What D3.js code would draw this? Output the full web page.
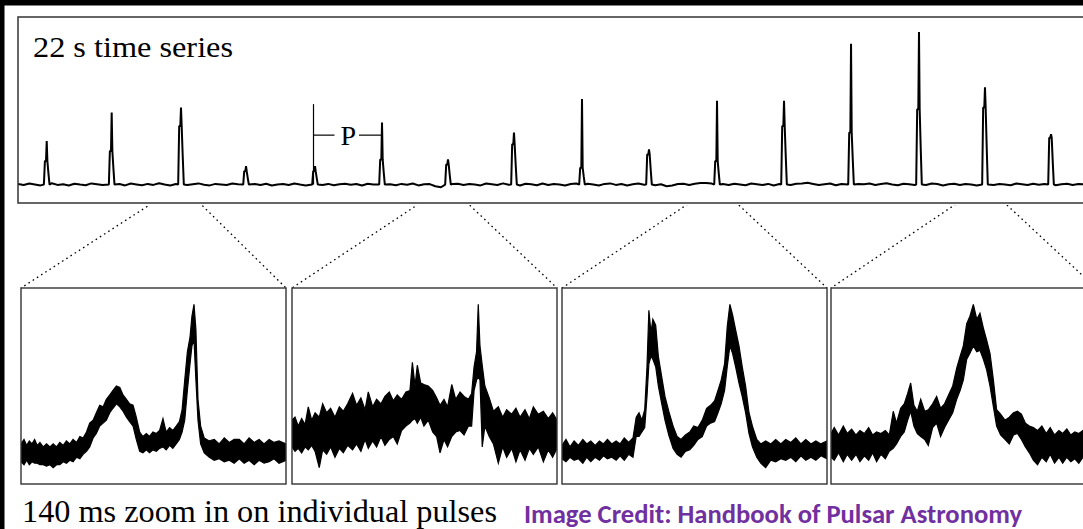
<!DOCTYPE html>
<html>
<head>
<meta charset="utf-8">
<script src="https://cdn.jsdelivr.net/npm/d3@7"></script>
<style>
  html, body { margin: 0; padding: 0; background: #fff; }
  svg { display: block; }
</style>
</head>
<body>
<div id="chart"></div>
<script>
// pulse arrival times in the 22 s series (s), peak and shoulder heights (arb. units)
const pulseTimes = [0.509, 1.661, 2.890, 4.043, 5.266, 6.454, 7.624, 8.794, 10.0, 11.188, 12.394, 13.582, 14.77, 15.975, 17.145, 18.316];
const pulsePeaks = [26, 43, 46, 11, 11, 37, 15, 31, 51, 21, 50, 50, 84, 91, 58, 30];
const pulseShoulders = [14, 20, 35, 8, 8, 15, 12, 24, 10, 18, 14, 35, 31, 45, 46, 28];
// off-pulse baseline, one sample every 0.1 s
const baselineNoise = [
    0.4, -0.3, 0.6, 0.1, -0.5, 0.3, 0.8, -0.2, 0.2, -0.6, 0.5, 0.0, -0.4, 0.7, 0.2, -0.3, 0.5, -0.1, 0.3, -0.5,
    0.6, 0.1, -0.4, 0.4, -0.2, 0.8, 0.0, -0.6, 0.3, 0.5, -0.3, 0.2, 0.7, -0.1, -0.5, 0.4, 0.1, -0.3, 0.6, 0.2,
    -0.4, 1.2, 0.3, -0.2, 0.5, -0.6, 0.1, 0.4, -0.3, 0.6, 0.0, -0.5, 0.3, 0.7, -0.2, 0.4, -0.4, 0.2, 0.5, -0.1,
    0.3, -0.6, 0.5, 0.1, -0.3, 0.7, 0.2, -0.4, 0.4, -0.1, 0.6, -0.5, 0.2, 0.3, -1.0, -1.6, -0.8, 0.3, 0.5, -0.2,
    0.4, 0.0, -0.5, 0.6, 0.2, -0.3, 0.7, -0.1, 0.3, -0.6, 0.5, 0.2, -0.4, 0.6, -0.2, 0.4, 0.1, -0.5, 0.3, 0.6,
    -0.3, 0.5, 0.1, -0.6, 0.4, 0.7, -0.2, 0.3, -0.5, 0.2, 0.6, -0.1, 0.4, -0.4, 0.2, -1.0, -0.6, 0.3, 0.5, -0.2,
    0.5, 0.9, 1.0, 0.6, 0.8, 0.3, -0.2, 0.5, 0.1, -0.4, 0.6, 0.2, -0.3, 0.4, -0.6, 0.3, 0.1, -0.2, 0.5, 0.7,
    1.1, 0.4, -0.3, 0.2, 0.6, -0.4, 0.3, 0.1, -0.5, 0.4, 0.2, 0.6, -0.2, 0.3, 0.8, 0.1, -0.4, 0.5, 0.2, -0.3,
    0.4, -0.2, 0.6, 0.3, -0.5, 0.2, 0.5, -0.3, 0.4, 0.1, -0.6, 0.3, 0.7, -0.2, 0.4, 0.0, -0.4, 0.6, 0.2, -0.3,
    0.5, -0.1, 0.3, 0.6, -0.4, 0.2, 0.5, -0.2, 0.3, 0.1, -0.5, 0.4
];
const baselineStep = 0.1;
// which pulses get a 140 ms zoom panel
const zoomedPulses = [2, 6, 10, 14];

// 140 ms zooms: time (ms), upper and lower edge of the noisy trace
const zoom1T = [0, 1.6, 3, 4.4, 5.8, 7.2, 8.6, 10, 11.7, 13.5, 15.3, 17, 18.8, 20.5, 22.3, 24, 25.8, 27.5, 29.3, 31.1, 32.8, 34.6, 36.3, 38.1, 39.8, 41.6, 43.4, 45.1, 46.9, 48.6, 50.4, 52.2, 53.9, 55.7, 57.4, 59.2, 60.9, 62.7, 64.4, 66.2, 67.9, 69.7, 71.5, 73.2, 75, 76.7, 78.5, 80.2, 82, 83.7, 85.1, 86.5, 87.9, 89.3, 90.3, 91.4, 92.4, 93.5, 94.9, 96.8, 99.5, 102.1, 104.7, 107.4, 110, 112.6, 115.3, 117.9, 120.5, 123.2, 125.8, 128.4, 131.1, 133.7, 136.3, 140];
const zoom1Hi = [7, 10, 6, 9, 7, 10, 6, 8, 5, 7, 5, 7, 5, 8, 6, 9, 7, 10, 8, 12, 11, 15, 21, 23, 28, 33, 32, 37, 40, 43, 46, 45, 40, 37, 34, 33, 25, 15, 12, 14, 12, 15, 14, 16, 24, 15, 18, 16, 19, 22, 30, 50, 69, 79, 93, 101, 84, 37, 19, 11, 9, 10, 7, 11, 8, 10, 10, 7, 11, 8, 10, 7, 10, 8, 9, 7];
const zoom1Lo = [-5, -7, -4, -7, -5, -6, -6, -7, -7, -8, -7, -9, -7, -7, -5, -6, -4, -5, -2, -3, 0, 2, 5, 11, 14, 19, 21, 23, 28, 31, 34, 32, 29, 25, 22, 19, 10, 2, 1, 3, 1, 3, 2, 4, 5, 3, 6, 4, 7, 10, 15, 23, 43, 61, 73, 77, 50, 23, 7, 1, -2, -4, -3, -5, -4, -6, -3, -6, -4, -7, -4, -6, -5, -3, -6, -4];

const zoom2T = [0, 1.6, 3.3, 5.1, 6.9, 8.6, 10.4, 12.2, 14.4, 16.2, 18.3, 20.4, 22.7, 25, 27.1, 29.4, 32, 34.1, 36.4, 38.6, 40.3, 42.6, 44.7, 47, 49.1, 51.4, 53.5, 55.6, 57.9, 60.2, 62.3, 63.6, 65, 66.2, 68, 69.7, 72, 74.3, 76.4, 78.2, 80.3, 82.2, 84.4, 86.5, 88.8, 90.9, 93.2, 94.9, 96.2, 97.5, 98.4, 99.3, 100.5, 101.9, 104.2, 106.4, 109, 111.3, 113.4, 116.1, 118.3, 120.5, 123.1, 125.4, 127.5, 130.1, 132.8, 135.4, 137.7, 140];
const zoom2Hi = [23, 25, 19, 24, 20, 32, 23, 28, 25, 34, 28, 31, 25, 32, 29, 34, 41, 33, 38, 30, 42, 32, 37, 34, 39, 42, 36, 40, 37, 42, 43, 62, 46, 60, 48, 47, 46, 43, 38, 33, 37, 32, 47, 37, 42, 39, 37, 41, 59, 69, 101, 73, 60, 46, 38, 29, 32, 25, 30, 27, 31, 25, 30, 24, 32, 27, 29, 24, 28, 23];
const zoom2Lo = [5, 2, 4, 1, 5, 3, 6, 2, -9, 3, 0, 5, -2, 4, 1, 6, 3, 7, 2, 10, 4, 9, 5, 12, 6, 10, 12, 7, 16, 19, 21, 23, 24, 21, 25, 19, 23, 15, 12, 1, 10, 5, 12, 15, 16, 13, 19, 19, 43, 50, 52, 50, 5, 19, 12, 7, -6, 5, -2, 4, -5, 3, -4, 4, 0, 5, -5, 3, -2, 4];

const zoom3T = [0, 2.1, 4.2, 6.4, 8.7, 11, 13.1, 15.2, 17.5, 19.8, 21.9, 24, 26.3, 28.6, 30.7, 32.9, 35.2, 37.5, 39.2, 40.7, 42.2, 43.7, 44.9, 45.9, 47, 48, 49.5, 50.9, 52.7, 54.4, 56.4, 58.7, 60.8, 62.9, 65.2, 67.5, 69.6, 71.8, 74.1, 76.4, 78.5, 80.6, 82.4, 84.1, 85.9, 87.3, 88.7, 90.1, 91.7, 93.5, 95.2, 97, 98.8, 100.6, 102.9, 105, 107.6, 110.3, 112.9, 115.6, 118.2, 120.9, 123.5, 126.2, 128.8, 131.5, 134.1, 136.8, 140];
const zoom3Hi = [6, 10, 5, 9, 6, 10, 7, 9, 6, 9, 7, 10, 7, 9, 7, 11, 8, 11, 25, 28, 23, 30, 59, 97, 82, 91, 87, 66, 52, 39, 29, 19, 12, 10, 13, 15, 19, 18, 23, 31, 33, 36, 43, 50, 61, 86, 101, 94, 84, 73, 59, 46, 28, 19, 10, 7, 9, 7, 10, 7, 10, 8, 11, 7, 10, 7, 9, 7, 9];
const zoom3Lo = [-3, -5, -2, -4, -3, -6, -2, -5, -2, -4, -1, -3, -2, -4, -1, -4, 0, -2, 12, 12, 15, 18, 39, 61, 66, 64, 59, 46, 34, 23, 13, 4, 0, -2, 2, 3, 6, 10, 12, 19, 21, 22, 28, 34, 43, 59, 73, 68, 59, 48, 39, 28, 14, 5, -2, -6, -9, -4, -5, -3, -4, -2, -5, -1, -4, -2, -4, -1, -3];

const zoom4T = [0, 1.7, 4, 6.5, 8.6, 10.9, 13.2, 15.3, 17.6, 19.9, 22, 24.1, 26.4, 28.7, 30.8, 32.9, 34.6, 36.8, 38.7, 40.5, 42.1, 43.8, 45.6, 47.4, 49.5, 51.4, 53.7, 55.8, 57.9, 60, 62.1, 64.3, 66.4, 68.2, 69.9, 71.7, 73.4, 75.2, 77, 78.7, 80.5, 82.2, 84, 85.8, 87.5, 89.6, 91.9, 94.2, 96.4, 98.5, 100.6, 102.7, 104.8, 106.9, 109.1, 111.4, 113.7, 115.8, 118.1, 120.4, 122.4, 124.6, 126.7, 128.8, 130.9, 133.1, 135, 137.5, 140];
const zoom4Hi = [14, 18, 13, 19, 14, 17, 13, 16, 14, 18, 13, 15, 14, 16, 13, 29, 21, 31, 34, 41, 48, 33, 29, 37, 29, 30, 34, 39, 31, 34, 40, 46, 58, 66, 73, 88, 93, 101, 91, 95, 85, 77, 68, 50, 30, 27, 23, 25, 28, 29, 27, 21, 19, 18, 16, 19, 14, 18, 13, 16, 14, 17, 13, 15, 14, 16, 13, 16, 14];
const zoom4Lo = [-2, -4, 1, -5, 0, -4, 0, -5, -1, -4, 1, -5, 0, -3, 2, 4, 7, 12, 15, 23, 29, 19, 14, 12, 10, 6, 18, 21, 12, 18, 23, 28, 37, 43, 50, 64, 68, 73, 69, 70, 64, 57, 46, 32, 19, 13, 10, 7, 13, 14, 10, 5, 1, -4, -7, -2, -5, 0, -6, -2, -6, -2, -5, -3, -6, -2, -4, -2, -3];

const zoomT = [zoom1T, zoom2T, zoom3T, zoom4T];
const zoomHi = [zoom1Hi, zoom2Hi, zoom3Hi, zoom4Hi];
const zoomLo = [zoom1Lo, zoom2Lo, zoom3Lo, zoom4Lo];

const titleTop = '22 s time series';
const titleBottom = '140 ms zoom in on individual pulses';
const credit = 'Image Credit: Handbook of Pulsar Astronomy';

// layout
const W = 1083, H = 529;
const topBox = { x: 18, y: 17, w: 1100, h: 186 };
const panelLefts = [21, 292, 562, 831];
const panel = { y: 288, w: 265, h: 196 };

const svg = d3.select('#chart').append('svg')
    .attr('width', W)
    .attr('height', H)
    .attr('viewBox', `0 0 ${W} ${H}`);

svg.append('rect').attr('width', W).attr('height', H).attr('fill', '#fff');

const defs = svg.append('defs');

// 1. Top panel: the 22 s time series
const xTop = d3.scaleLinear().domain([0, 22]).range([topBox.x, topBox.x + 22 * 56.4]);
const yTop = d3.scaleLinear().domain([-11, 100]).range([topBox.y + topBox.h, topBox.y]);

let series = baselineNoise
    .map((v, i) => [i * baselineStep, v])
    .filter(p => !pulseTimes.some(t => Math.abs(p[0] - t) < 0.07));

// each pulse: a thicker lower component and a narrow spike on top
pulseTimes.forEach((t, i) => {
    const pk = pulsePeaks[i], sh = pulseShoulders[i];
    series.push(
        [t - 0.05, 0], [t - 0.032, sh], [t - 0.012, sh],
        [t, pk], [t + 0.012, sh], [t + 0.03, sh * 0.5], [t + 0.05, 0]
    );
});
series.sort((a, b) => a[0] - b[0]);

defs.append('clipPath').attr('id', 'clip-top')
    .append('rect').attr('x', topBox.x).attr('y', topBox.y).attr('width', topBox.w).attr('height', topBox.h);

svg.append('path')
    .datum(series)
    .attr('clip-path', 'url(#clip-top)')
    .attr('fill', 'none')
    .attr('stroke', '#000')
    .attr('stroke-width', 2)
    .attr('stroke-linejoin', 'bevel')
    .attr('d', d3.line().x(d => xTop(d[0])).y(d => yTop(d[1])));

svg.append('rect')
    .attr('x', topBox.x).attr('y', topBox.y)
    .attr('width', topBox.w).attr('height', topBox.h)
    .attr('fill', 'none').attr('stroke', '#333').attr('stroke-width', 1.5);

svg.append('text')
    .attr('x', 33).attr('y', 57)
    .attr('font-family', '"Liberation Serif", "Times New Roman", serif')
    .attr('font-size', 29)
    .attr('textLength', 200)
    .attr('lengthAdjust', 'spacingAndGlyphs')
    .attr('fill', '#000')
    .text(titleTop);

// P bracket between pulses 5 and 6
const pL = xTop(pulseTimes[4]) - 1.5, pR = xTop(pulseTimes[5]);
const bracket = svg.append('g').attr('stroke', '#000').attr('stroke-width', 1.2);
bracket.append('line').attr('x1', pL).attr('x2', pL).attr('y1', yTop(48)).attr('y2', yTop(0));
bracket.append('line').attr('x1', pL).attr('x2', pL + 21).attr('y1', yTop(29.5)).attr('y2', yTop(29.5));
bracket.append('line').attr('x1', pR - 23).attr('x2', pR).attr('y1', yTop(29.5)).attr('y2', yTop(29.5));
svg.append('text')
    .attr('x', (pL + pR) / 2 + 0.5).attr('y', yTop(29.5) + 10)
    .attr('text-anchor', 'middle')
    .attr('font-family', '"Liberation Serif", "Times New Roman", serif')
    .attr('font-size', 28)
    .text('P');

// 2. Dotted guide lines from each zoomed pulse to its panel
defs.append('clipPath').attr('id', 'clip-gap')
    .append('rect').attr('x', 0).attr('y', topBox.y + topBox.h + 2).attr('width', W).attr('height', panel.y - topBox.y - topBox.h - 2);

const guides = svg.append('g').attr('clip-path', 'url(#clip-gap)');
zoomedPulses.forEach((pi, k) => {
    const px = xTop(pulseTimes[pi]), py = yTop(0);
    [panelLefts[k], panelLefts[k] + panel.w].forEach(cx => {
        guides.append('line')
            .attr('x1', px).attr('y1', py)
            .attr('x2', cx).attr('y2', panel.y)
            .attr('stroke', '#000')
            .attr('stroke-width', 1.3)
            .attr('stroke-dasharray', '1.6,3.4');
    });
});

// 3. Bottom panels: 140 ms zooms
const xZoom = d3.scaleLinear().domain([0, 140]).range([0, panel.w]);
const yZoom = d3.scaleLinear().domain([-20, 112]).range([panel.h, 0]);
const band = d3.area()
    .x(d => xZoom(d.t))
    .y0(d => yZoom(d.lo))
    .y1(d => yZoom(d.hi));

panelLefts.forEach((left, k) => {
    const g = svg.append('g').attr('transform', `translate(${left},${panel.y})`);
    defs.append('clipPath').attr('id', 'clip-z' + k)
        .append('rect').attr('width', panel.w).attr('height', panel.h);

    const rows = zoomT[k].map((t, i) => ({ t: t, hi: zoomHi[k][i], lo: zoomLo[k][i] }));
    g.append('path')
        .datum(rows)
        .attr('clip-path', `url(#clip-z${k})`)
        .attr('fill', '#000')
        .attr('stroke', '#000')
        .attr('stroke-width', 1.2)
        .attr('stroke-linejoin', 'miter')
        .attr('d', band);

    g.append('rect')
        .attr('width', panel.w).attr('height', panel.h)
        .attr('fill', 'none').attr('stroke', '#333').attr('stroke-width', 1.4);
});

// 4. Captions and the black frame
svg.append('text')
    .attr('x', 22).attr('y', 522)
    .attr('font-family', '"Liberation Serif", "Times New Roman", serif')
    .attr('font-size', 31)
    .attr('textLength', 475)
    .attr('lengthAdjust', 'spacingAndGlyphs')
    .attr('fill', '#000')
    .text(titleBottom);

svg.append('text')
    .attr('x', 524).attr('y', 523)
    .attr('font-family', 'Carlito, Lato, "Open Sans", sans-serif')
    .attr('font-weight', 'bold')
    .attr('font-size', 26)
    .attr('textLength', 498)
    .attr('lengthAdjust', 'spacingAndGlyphs')
    .attr('fill', '#7030a0')
    .text(credit);

svg.append('rect').attr('x', 0).attr('y', 0).attr('width', W).attr('height', 5.5).attr('fill', '#000');
svg.append('rect').attr('x', 0).attr('y', 0).attr('width', 4.5).attr('height', H).attr('fill', '#000');
</script>
</body>
</html>
